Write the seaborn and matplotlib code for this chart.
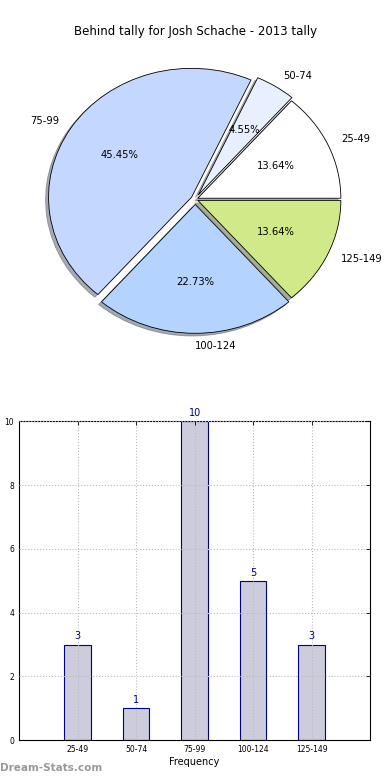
import numpy as np
import pandas as pd
import matplotlib
matplotlib.use('Agg')
import matplotlib.pyplot as plt
import seaborn as sns

# data
categories = ['25-49', '50-74', '75-99', '100-124', '125-149']
counts = [3, 1, 10, 5, 3]
pie_colors = ['#ffffff', '#e8f0ff', '#c4d8ff', '#b4d4ff', '#d0ea8a']
explode = [0.02, 0.04, 0.03, 0.04, 0.02]

sns.set_style('white')
plt.rcParams['font.family'] = ['DejaVu Sans']
plt.rcParams['text.color'] = 'black'
plt.rcParams['axes.labelcolor'] = 'black'
plt.rcParams['xtick.color'] = 'black'
plt.rcParams['ytick.color'] = 'black'

fig = plt.figure(figsize=(3.9, 7.8), dpi=100)

# pie
ax1 = fig.add_axes([0.042, 0.538, 0.917, 0.413])
wedges, texts, autotexts = ax1.pie(counts, labels=categories, colors=pie_colors,
                                   explode=explode, autopct='%.2f%%',
                                   shadow={'ox': -0.015, 'oy': -0.015, 'shade': 0.6},
                                   startangle=0, labeldistance=1.1, pctdistance=0.6,
                                   wedgeprops=dict(edgecolor='black', linewidth=0.6),
                                   textprops=dict(fontsize=7.2, color='black'))
ax1.set_aspect('auto')
ax1.set_title('Behind tally for Josh Schache - 2013 tally', fontsize=8.5, pad=2)

# bars
df = pd.DataFrame({'range': categories, 'count': counts})
ax2 = fig.add_axes([0.049, 0.051, 0.9, 0.409])
sns.barplot(data=df, x='range', y='count', ax=ax2, color='#ccccdd', saturation=1,
            edgecolor='navy', linewidth=0.8, width=0.45)
for i, c in enumerate(counts):
    ax2.text(i, c + 0.1, str(c), ha='center', va='bottom', color='navy', fontsize=7)
ax2.set_xlim(-1, 5)
ax2.set_ylim(0, 10)
ax2.set_yticks([0, 2, 4, 6, 8, 10])
ax2.grid(True, linestyle=':', color='#bbbbbb', linewidth=0.8)
ax2.set_axisbelow(False)
ax2.tick_params(direction='in', top=True, right=True, labelsize=5.5, length=3, width=0.6)
for s in ax2.spines.values():
    s.set_color('black')
    s.set_linewidth(0.8)
ax2.set_xlabel('Frequency', fontsize=7, labelpad=2)
ax2.set_ylabel('')
fig.text(-0.004, 0.26, 'Number of Matches', rotation=90, fontsize=6.5, ha='center', va='center')

fig.text(0.0, 0.012, 'Dream-Stats.com', color='#999999', fontsize=7.5, fontweight='bold')

fig.savefig('out.png', dpi=100)
